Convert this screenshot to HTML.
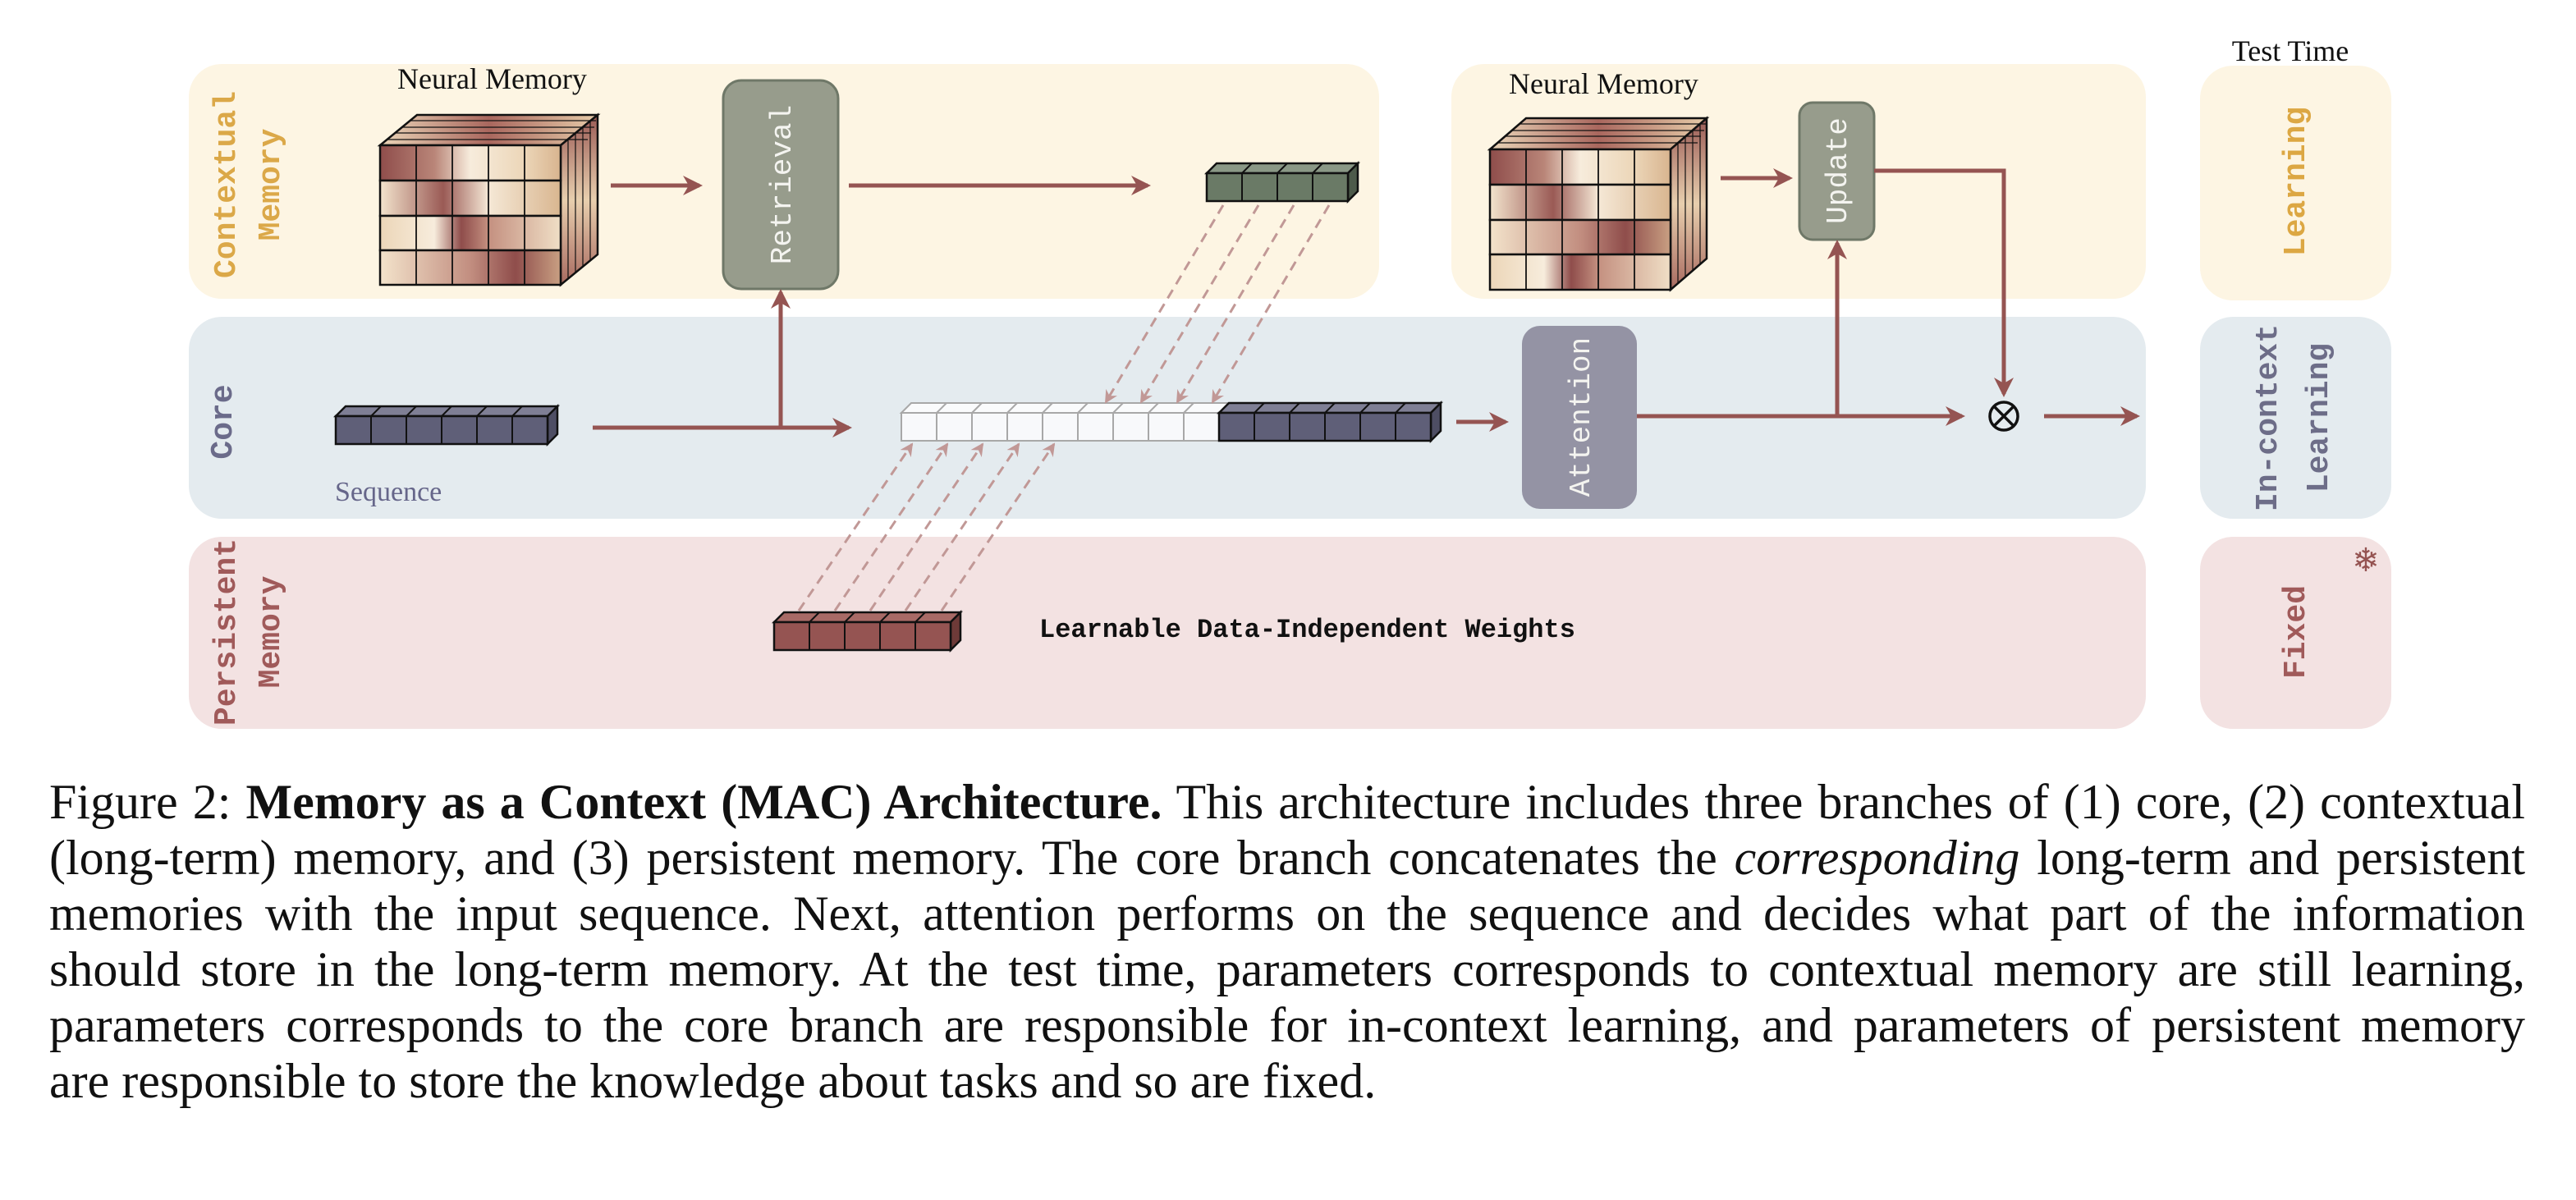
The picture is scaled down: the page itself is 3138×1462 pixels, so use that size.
<!DOCTYPE html>
<html><head><meta charset="utf-8"><style>
html,body{margin:0;padding:0;background:#fff;}
body{width:3138px;height:1462px;position:relative;overflow:hidden;}
svg{position:absolute;left:0;top:0;}
.cap{position:absolute;left:60px;width:3016px;font-family:"Liberation Serif",serif;font-size:60px;line-height:68px;color:#111;}
.cap div{text-align:justify;text-align-last:justify;white-space:nowrap;height:68px;}
.cap div.l{text-align-last:left;}
</style></head><body>
<svg width="3138" height="940" viewBox="0 0 3138 940" xmlns="http://www.w3.org/2000/svg">
<defs>
<marker id="ah" viewBox="0 0 24 24" refX="20" refY="12" markerWidth="24" markerHeight="24" markerUnits="userSpaceOnUse" orient="auto">
<path d="M0,0 L24,12 L0,24 L7,12 z" fill="#955452"/></marker>
<marker id="ad" viewBox="0 0 16 16" refX="14" refY="8" markerWidth="16" markerHeight="16" markerUnits="userSpaceOnUse" orient="auto">
<path d="M0,0 L16,8 L0,16 L5,8 z" fill="#c19896"/></marker>
<linearGradient id="g1" x1="0" x2="1" y1="0" y2="0">
<stop offset="0" stop-color="#8f4d4b"/><stop offset="0.3" stop-color="#b98578"/><stop offset="0.5" stop-color="#f7ecdc"/><stop offset="0.8" stop-color="#ecd6b8"/><stop offset="1" stop-color="#d8b48f"/></linearGradient>
<linearGradient id="g2" x1="0" x2="1" y1="0" y2="0">
<stop offset="0" stop-color="#f3e4cd"/><stop offset="0.35" stop-color="#9a5a55"/><stop offset="0.6" stop-color="#f5e8d6"/><stop offset="1" stop-color="#d9b690"/></linearGradient>
<linearGradient id="g3" x1="0" x2="1" y1="0" y2="0">
<stop offset="0" stop-color="#f3e3cb"/><stop offset="0.5" stop-color="#c28e80"/><stop offset="0.75" stop-color="#8f4d4b"/><stop offset="1" stop-color="#c9a083"/></linearGradient>
<linearGradient id="g4" x1="0" x2="1" y1="0" y2="0">
<stop offset="0" stop-color="#ecd6b8"/><stop offset="0.3" stop-color="#f7ecdc"/><stop offset="0.45" stop-color="#8f4d4b"/><stop offset="0.6" stop-color="#c49080"/><stop offset="1" stop-color="#f0dfc6"/></linearGradient>
<linearGradient id="gs" x1="0" x2="0" y1="0" y2="1">
<stop offset="0" stop-color="#9a5a55"/><stop offset="0.5" stop-color="#e8cfae"/><stop offset="1" stop-color="#a86a60"/></linearGradient>
<linearGradient id="gt" x1="0" x2="1" y1="0" y2="0">
<stop offset="0" stop-color="#ead5b8"/><stop offset="0.5" stop-color="#a9675e"/><stop offset="1" stop-color="#e6cba8"/></linearGradient>
</defs>

<rect x="230" y="78" width="1450" height="286" rx="40" fill="#fdf5e3"/>
<rect x="1768" y="78" width="846" height="286" rx="40" fill="#fdf5e3"/>
<rect x="230" y="386" width="2384" height="246" rx="40" fill="#e4ebef"/>
<rect x="230" y="654" width="2384" height="234" rx="40" fill="#f3e2e2"/>
<rect x="2680" y="80" width="233" height="286" rx="40" fill="#fdf5e3"/>
<rect x="2680" y="386" width="233" height="246" rx="40" fill="#e4ebef"/>
<rect x="2680" y="654" width="233" height="234" rx="40" fill="#f3e2e2"/>

<g font-family="Liberation Mono, monospace" font-size="38" text-anchor="middle" font-weight="bold">
<text transform="translate(286,225) rotate(-90)" fill="#dba848">Contextual</text>
<text transform="translate(340,225) rotate(-90)" fill="#dba848">Memory</text>
<text transform="translate(282,514) rotate(-90)" fill="#6b6b8a">Core</text>
<text transform="translate(286,770) rotate(-90)" fill="#a05a5a">Persistent</text>
<text transform="translate(340,770) rotate(-90)" fill="#a05a5a">Memory</text>
<text transform="translate(2807,221) rotate(-90)" fill="#dca743">Learning</text>
<text transform="translate(2773,509) rotate(-90)" fill="#6d6d88">In-context</text>
<text transform="translate(2835,509) rotate(-90)" fill="#6d6d88">Learning</text>
<text transform="translate(2807,770) rotate(-90)" fill="#a05a5a">Fixed</text>
</g>
<text x="2882" y="696" font-size="40" fill="#955452" text-anchor="middle" font-family="DejaVu Sans, sans-serif">❄</text>
<g font-family="Liberation Serif, serif" font-size="36" fill="#111">
<text x="2790" y="74" text-anchor="middle">Test Time</text>
<text x="484" y="108">Neural Memory</text>
<text x="1838" y="114">Neural Memory</text>
<text x="408" y="610" fill="#66668a" font-size="34">Sequence</text>
<text x="1266" y="776" font-family="Liberation Mono, monospace" font-size="32" font-weight="bold">Learnable Data-Independent Weights</text>
</g>

<g stroke="#111" stroke-width="2.5">
<polygon points="463,177 508,140 728,140 683,177" fill="url(#gt)"/>
<polygon points="683,177 728,140 728,310 683,347" fill="url(#gs)"/>
<rect x="463" y="177" width="220" height="43" fill="url(#g1)"/>
<rect x="463" y="220" width="220" height="43" fill="url(#g2)"/>
<rect x="463" y="263" width="220" height="42" fill="url(#g4)"/>
<rect x="463" y="305" width="220" height="42" fill="url(#g3)"/>
</g>
<g stroke="#111" stroke-width="1.8" fill="none">
<path d="M507,177V347M551,177V347M595,177V347M639,177V347"/>
<path d="M472,170L716,170M481,162L720,162M490,155L724,155M499,147L726,147" stroke-width="1.2"/>
<path d="M692,170V340M701,162V332M710,155V325M719,147V317" stroke-width="1.2"/>
</g>
<g stroke="#111" stroke-width="2.5">
<polygon points="1815,182 1859,144 2079,144 2035,182" fill="url(#gt)"/>
<polygon points="2035,182 2079,144 2079,315 2035,353" fill="url(#gs)"/>
<rect x="1815" y="182" width="220" height="43" fill="url(#g1)"/>
<rect x="1815" y="225" width="220" height="43" fill="url(#g2)"/>
<rect x="1815" y="268" width="220" height="42" fill="url(#g3)"/>
<rect x="1815" y="310" width="220" height="43" fill="url(#g4)"/>
</g>
<g stroke="#111" stroke-width="1.8" fill="none">
<path d="M1859,182V353M1903,182V353M1947,182V353M1991,182V353"/>
<path d="M1824,174L2068,174M1833,166L2072,166M1842,159L2076,159M1851,151L2078,151" stroke-width="1.2"/>
<path d="M2044,174V345M2053,166V337M2062,159V330M2071,151V322" stroke-width="1.2"/>
</g>

<rect x="881" y="98" width="140" height="254" rx="22" fill="#979c8c" stroke="#6f7868" stroke-width="3"/>
<rect x="2192" y="125" width="91" height="167" rx="16" fill="#979c8c" stroke="#6f7868" stroke-width="3"/>
<rect x="1854" y="397" width="140" height="223" rx="22" fill="#9493a4"/>
<g font-family="Liberation Mono, monospace" font-size="36" fill="#f4f4f0" text-anchor="middle">
<text transform="translate(963,225) rotate(-90)">Retrieval</text>
<text transform="translate(2249,208) rotate(-90)">Update</text>
<text transform="translate(1936,508) rotate(-90)">Attention</text>
</g>

<g stroke="#111" stroke-width="2.5">
<polygon points="409,507 421,495 679,495 667,507" fill="#7f7f95"/>
<polygon points="667,507 679,495 679,529 667,541" fill="#4e4e64"/>
<rect x="409" y="507" width="258" height="34" fill="#5f5f78"/>
<path d="M452,507V541M495,507V541M538,507V541M581,507V541M624,507V541M452,507L464,495M495,507L507,495M538,507L550,495M581,507L593,495M624,507L636,495" fill="none" stroke-width="2"/>
</g>
<g stroke="#111" stroke-width="2.5">
<polygon points="1470,211 1482,199 1654,199 1642,211" fill="#8a9886"/>
<polygon points="1642,211 1654,199 1654,233 1642,245" fill="#4d5a4a"/>
<rect x="1470" y="211" width="172" height="34" fill="#6a7a66"/>
<path d="M1513,211V245M1556,211V245M1599,211V245M1513,211L1525,199M1556,211L1568,199M1599,211L1611,199" fill="none" stroke-width="2"/>
</g>
<g stroke="#a8a8a8" stroke-width="2">
<polygon points="1098,503 1110,491 1497,491 1485,503" fill="#fafbfc"/>
<rect x="1098" y="503" width="387" height="34" fill="#f8f9fb"/>
<path d="M1141,503V537M1184,503V537M1227,503V537M1270,503V537M1313,503V537M1356,503V537M1399,503V537M1442,503V537M1141,503L1153,491M1184,503L1196,491M1227,503L1239,491M1270,503L1282,491M1313,503L1325,491M1356,503L1368,491M1399,503L1411,491M1442,503L1454,491" fill="none"/>
</g>
<g stroke="#111" stroke-width="2.5">
<polygon points="1485,503 1497,491 1755,491 1743,503" fill="#7f7f95"/>
<polygon points="1743,503 1755,491 1755,525 1743,537" fill="#4e4e64"/>
<rect x="1485" y="503" width="258" height="34" fill="#5f5f78"/>
<path d="M1528,503V537M1571,503V537M1614,503V537M1657,503V537M1700,503V537M1528,503L1540,491M1571,503L1583,491M1614,503L1626,491M1657,503L1669,491M1700,503L1712,491" fill="none" stroke-width="2"/>
</g>
<g stroke="#111" stroke-width="2.5">
<polygon points="943,758 955,746 1170,746 1158,758" fill="#a86a66"/>
<polygon points="1158,758 1170,746 1170,780 1158,792" fill="#6e3a38"/>
<rect x="943" y="758" width="215" height="34" fill="#955452"/>
<path d="M986,758V792M1029,758V792M1072,758V792M1115,758V792M986,758L998,746M1029,758L1041,746M1072,758L1084,746M1115,758L1127,746" fill="none" stroke-width="2"/>
</g>

<g stroke="#c19896" stroke-width="3" stroke-dasharray="12 8" fill="none" marker-end="url(#ad)">
<line x1="1490" y1="250" x2="1347" y2="490"/>
<line x1="1533" y1="250" x2="1390" y2="490"/>
<line x1="1576" y1="250" x2="1434" y2="490"/>
<line x1="1619" y1="250" x2="1477" y2="490"/>
<line x1="973" y1="744" x2="1111" y2="541"/>
<line x1="1017" y1="744" x2="1154" y2="541"/>
<line x1="1060" y1="744" x2="1197" y2="541"/>
<line x1="1103" y1="744" x2="1241" y2="541"/>
<line x1="1147" y1="744" x2="1284" y2="541"/>
</g>

<g stroke="#955452" stroke-width="5" fill="none" marker-end="url(#ah)">
<line x1="744" y1="226" x2="852" y2="226"/>
<line x1="1034" y1="226" x2="1398" y2="226"/>
<line x1="722" y1="521" x2="1034" y2="521"/>
<line x1="951" y1="521" x2="951" y2="356"/>
<line x1="1774" y1="514" x2="1834" y2="514"/>
<line x1="1994" y1="507" x2="2390" y2="507"/>
<line x1="2238" y1="507" x2="2238" y2="296"/>
<polyline points="2283,208 2441,208 2441,480"/>
<line x1="2490" y1="507" x2="2603" y2="507"/>
<line x1="2096" y1="217" x2="2180" y2="217"/>
</g>
<circle cx="2441" cy="507" r="17" fill="none" stroke="#111" stroke-width="3.5"/>
<path d="M2429,495L2453,519M2453,495L2429,519" stroke="#111" stroke-width="3.5"/>
</svg>

<div class="cap" style="top:943px;">
<div>Figure 2: <b>Memory as a Context (MAC) Architecture.</b> This architecture includes three branches of (1) core, (2) contextual</div>
<div>(long-term) memory, and (3) persistent memory. The core branch concatenates the <i>corresponding</i> long-term and persistent</div>
<div>memories with the input sequence. Next, attention performs on the sequence and decides what part of the information</div>
<div>should store in the long-term memory. At the test time, parameters corresponds to contextual memory are still learning,</div>
<div>parameters corresponds to the core branch are responsible for in-context learning, and parameters of persistent memory</div>
<div class="l">are responsible to store the knowledge about tasks and so are fixed.</div>
</div>
</body></html>
